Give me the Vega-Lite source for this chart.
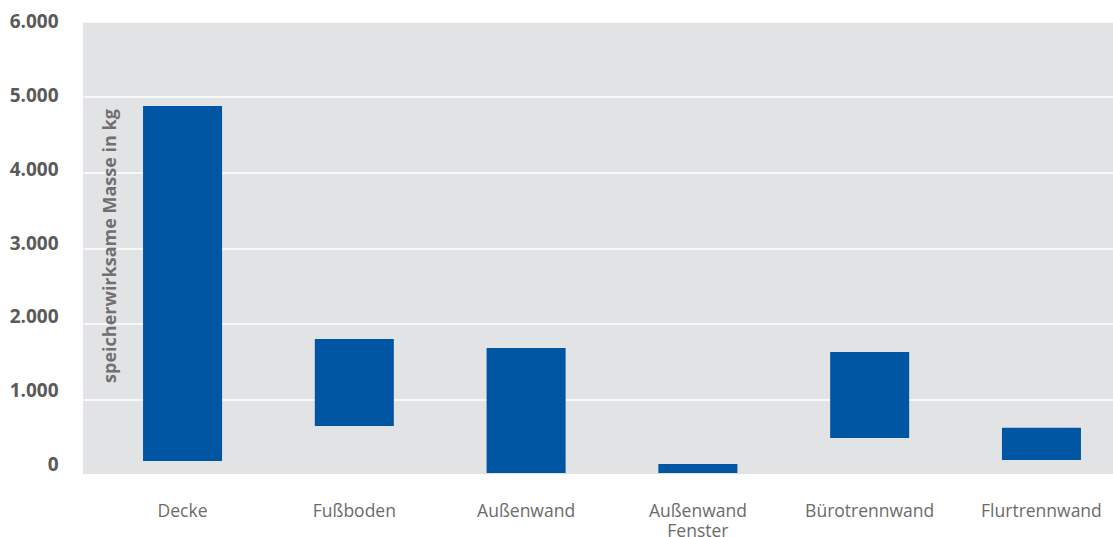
{
  "$schema": "https://vega.github.io/schema/vega-lite/v6.json",
  "width": 1030,
  "height": 453,
  "autosize": {"type": "none"},
  "padding": {"left": 83, "top": 21.5, "right": 0, "bottom": 62.5},
  "background": "white",
  "config": {
    "view": {"fill": "#e2e3e5", "stroke": null},
    "axis": {"gridColor": "white", "gridWidth": 1.5, "gridOpacity": 1}
  },
  "data": {
    "values": [
      {"bauteil": "Decke", "von": 179, "bis": 4881},
      {"bauteil": "Fußboden", "von": 642, "bis": 1795},
      {"bauteil": "Außenwand", "von": 20, "bis": 1675},
      {"bauteil": "Außenwand Fenster", "von": 20, "bis": 139},
      {"bauteil": "Bürotrennwand", "von": 483, "bis": 1623},
      {"bauteil": "Flurtrennwand", "von": 192, "bis": 620}
    ]
  },
  "mark": {"type": "bar", "color": "#0056a3"},
  "encoding": {
    "x": {
      "field": "bauteil",
      "type": "nominal",
      "sort": null,
      "scale": {"paddingInner": 0.54, "paddingOuter": 0.268, "align": 0.652},
      "axis": {
        "title": null,
        "labelAngle": 0,
        "ticks": false,
        "domain": false,
        "grid": false,
        "labelPadding": 28,
        "labelFont": "Open Sans",
        "labelFontSize": 17.5,
        "labelColor": "#6b6b6b",
        "labelLineHeight": 20,
        "labelExpr": "split(datum.label, ' ')"
      }
    },
    "y": {
      "field": "bis",
      "type": "quantitative",
      "scale": {"domain": [0, 6000], "nice": false},
      "axis": {
        "values": [0, 1000, 2000, 3000, 4000, 5000, 6000],
        "labelExpr": "replace(format(datum.value, ','), ',', '.')",
        "ticks": false,
        "domain": false,
        "labelPadding": 25,
        "labelFont": "Open Sans",
        "labelFontWeight": "bold",
        "labelFontSize": 19,
        "labelColor": "#5a5a5a",
        "labelOffset": {"expr": "-10 + datum.value/600"},
        "title": "speicherwirksame Masse in kg",
        "titleX": 27,
        "titleY": 224,
        "titleAngle": 270,
        "titleAlign": "center",
        "titleBaseline": "middle",
        "titleFont": "Open Sans",
        "titleFontSize": 18,
        "titleFontWeight": "bold",
        "titleColor": "#707070"
      }
    },
    "y2": {"field": "von"}
  }
}
